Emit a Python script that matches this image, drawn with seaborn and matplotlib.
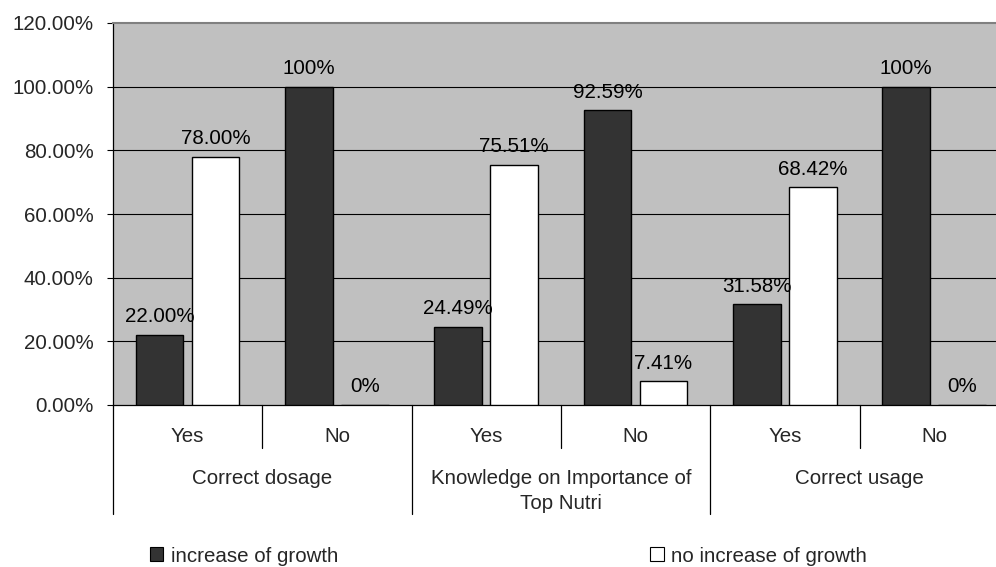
import matplotlib
matplotlib.use('Agg')
import matplotlib.pyplot as plt
import pandas as pd
import seaborn as sns
from matplotlib.patches import Patch

groups = ['Correct dosage', 'Knowledge on Importance of\nTop Nutri', 'Correct usage']
answers = ['Yes', 'No']
increase = [22.00, 100, 24.49, 92.59, 31.58, 100]
no_increase = [78.00, 0, 75.51, 7.41, 68.42, 0]
increase_lbl = ['22.00%', '100%', '24.49%', '92.59%', '31.58%', '100%']
no_increase_lbl = ['78.00%', '0%', '75.51%', '7.41%', '68.42%', '0%']
series = ['increase of growth', 'no increase of growth']
yticks = [0, 20, 40, 60, 80, 100, 120]

items = [g + '|' + a for g in groups for a in answers]
df = pd.DataFrame({
    'item': items * 2,
    'value': increase + no_increase,
    'series': [series[0]] * 6 + [series[1]] * 6,
})

sns.set_theme(style='white')
plt.rcParams['font.family'] = ['Liberation Sans', 'DejaVu Sans']
fs = 14.8

fig = plt.figure(figsize=(9.96, 5.67), dpi=100)
ax = fig.add_axes([113 / 996, 1 - 405 / 567, 1 - 113 / 996, (405 - 23) / 567])
ax.set_facecolor('#C0C0C0')

sns.barplot(data=df, x='item', y='value', hue='series', order=items,
            hue_order=series, palette=['#333333', '#FFFFFF'], saturation=1,
            edgecolor='black', linewidth=1.0, width=0.75, gap=0.15,
            legend=False, ax=ax, zorder=3)

ax.set_ylim(0, 120)
ax.set_xlim(-0.5, -0.5 + (996 - 113) / 149.3)
ax.set_yticks(yticks)
ax.set_yticklabels(['%.2f%%' % v for v in yticks], fontsize=fs)
ax.tick_params(axis='y', length=4.3, width=0.8, pad=9.5, left=True, color='black')
ax.tick_params(axis='x', bottom=False, labelbottom=False)
ax.set_xlabel('')
ax.set_ylabel('')
for v in yticks[1:-1]:
    ax.axhline(v, color='black', lw=0.8, zorder=1)

ax.spines['right'].set_visible(False)
ax.spines['top'].set_color('#808080')
ax.spines['top'].set_linewidth(1.5)
ax.spines['left'].set_color('black')
ax.spines['left'].set_linewidth(0.9)
ax.spines['bottom'].set_color('black')
ax.spines['bottom'].set_linewidth(0.9)

# data labels
for cont, labels in zip(ax.containers, [increase_lbl, no_increase_lbl]):
    for bar, lab in zip(cont, labels):
        x = bar.get_x() + bar.get_width() / 2
        ax.annotate(lab, (x, bar.get_height()), xytext=(0, 13.0),
                    textcoords='offset points', ha='center', va='center',
                    fontsize=fs, color='black', zorder=5)

# multi-level category axis
tr = ax.get_xaxis_transform()
ppx = 1 / 382
for i, a in enumerate(answers * 3):
    ax.text(i, -(436 - 405) * ppx, a, transform=tr, ha='center', va='center',
            fontsize=fs, clip_on=False)
for i in range(3):
    ax.plot([2 * i + 0.5] * 2, [0, -(448 - 405) * ppx], transform=tr,
            color='black', lw=0.9, clip_on=False)
for i in range(4):
    ax.plot([2 * i - 0.5] * 2, [0, -(514 - 405) * ppx], transform=tr,
            color='black', lw=0.9, clip_on=False)
for i, g in enumerate(groups):
    ax.text(2 * i + 0.5, -(469 - 405) * ppx, g, transform=tr, ha='center',
            va='top', fontsize=fs, linespacing=1.4, clip_on=False)

handles = [Patch(facecolor='#333333', edgecolor='black', lw=0.8),
           Patch(facecolor='white', edgecolor='black', lw=0.8)]
fig.legend(handles, series, loc='center left', bbox_to_anchor=(150 / 996, 1 - 556 / 567),
           ncol=2, frameon=False, fontsize=fs, handlelength=0.65, handleheight=0.65,
           handletextpad=0.35, columnspacing=15.2, borderpad=0, borderaxespad=0)

fig.savefig('out.png', dpi=100)
